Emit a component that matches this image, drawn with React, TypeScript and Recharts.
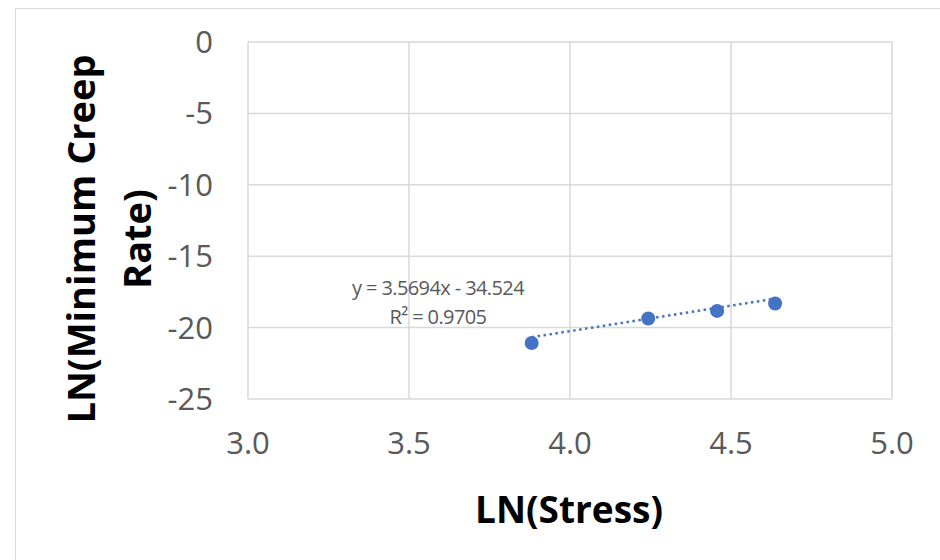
import React from "react";
import {
  ScatterChart,
  Scatter,
  XAxis,
  YAxis,
  CartesianGrid,
  ReferenceDot,
} from "recharts";

// values
const lnStress = [3.881, 4.243, 4.457, 4.637];
const lnCreepRate = [-21.08, -19.36, -18.83, -18.31];
const xTicks = [3.0, 3.5, 4.0, 4.5, 5.0];
const yTicks = [0, -5, -10, -15, -20, -25];
const trendSlope = 3.5694;
const trendIntercept = -34.524;
const rSquared = 0.9705;

const BLUE = "#4472C4";
const GRID = "#d9d9d9";
const TICK = "#595959";
const FONT = "'Open Sans', sans-serif";

const points = lnStress.map((x, i) => ({ x, y: lnCreepRate[i] }));
const xMin = Math.min(...lnStress);
const xMax = Math.max(...lnStress);
const trend = [xMin, xMax].map((x) => ({ x, y: trendSlope * x + trendIntercept }));

const Dot = (props: any) => <circle cx={props.cx} cy={props.cy} r={7} fill={BLUE} />;

const EquationLabel = ({ viewBox }: any) => {
  const { x, y } = viewBox;
  return (
    <text x={x} y={y} textAnchor="middle" fill={TICK} fontSize={20} fontFamily={FONT} letterSpacing={-0.6}>
      <tspan x={x} dy="0.35em">{`y = ${trendSlope}x - ${Math.abs(trendIntercept)}`}</tspan>
      <tspan x={x} dy={29}>{`R² = ${rSquared}`}</tspan>
    </text>
  );
};

const YTitle = () => (
  <g fontFamily={FONT} fontWeight="bold" fontSize={38} fill="#000">
    <text x={80} y={239} textAnchor="middle" dominantBaseline="central" transform="rotate(-90 80 239)">
      LN(Minimum Creep
    </text>
    <text x={136} y={239} textAnchor="middle" dominantBaseline="central" transform="rotate(-90 136 239)">
      Rate)
    </text>
  </g>
);

const XTitle = () => (
  <text x={569} y={508} textAnchor="middle" dominantBaseline="central" fontFamily={FONT} fontWeight="bold" fontSize={37} fill="#000">
    LN(Stress)
  </text>
);

export default function App() {
  return (
    <div style={{ position: "absolute", left: 0, top: 0, width: 940, height: 560, overflow: "hidden", background: "#fff" }}>
      <div
        style={{
          position: "absolute",
          left: 15,
          top: 8,
          width: 940,
          height: 560,
          borderLeft: `1.5px solid ${GRID}`,
          borderTop: `1.5px solid ${GRID}`,
        }}
      />
      <div style={{ position: "absolute", left: 0, top: 0 }}>
        <ScatterChart width={940} height={560} margin={{ top: 42, right: 48, left: 148, bottom: 101 }}>
          <CartesianGrid stroke={GRID} strokeWidth={1.5} />
          <XAxis
            type="number"
            dataKey="x"
            domain={[3, 5]}
            ticks={xTicks}
            tickFormatter={(v: number) => v.toFixed(1)}
            axisLine={false}
            tickLine={false}
            tickSize={0}
            tickMargin={33}
            height={60}
            tick={{ fill: TICK, fontSize: 31, fontFamily: FONT }}
            label={{ content: () => <XTitle /> }}
          />
          <YAxis
            type="number"
            dataKey="y"
            domain={[-25, 0]}
            ticks={yTicks}
            axisLine={false}
            tickLine={false}
            tickSize={0}
            tickMargin={35}
            width={100}
            tick={{ fill: TICK, fontSize: 31, fontFamily: FONT }}
            label={{ content: () => <YTitle /> }}
          />
          <Scatter
            data={trend}
            fill="none"
            line={{ stroke: BLUE, strokeWidth: 2.5, strokeDasharray: "2.5 3.5" }}
            shape={() => <g />}
            isAnimationActive={false}
          />
          <Scatter data={points} fill={BLUE} shape={Dot} isAnimationActive={false} />
          <ReferenceDot x={3.59} y={-17.2} r={0} fill="none" stroke="none" label={{ content: EquationLabel }} />
        </ScatterChart>
      </div>
    </div>
  );
}
